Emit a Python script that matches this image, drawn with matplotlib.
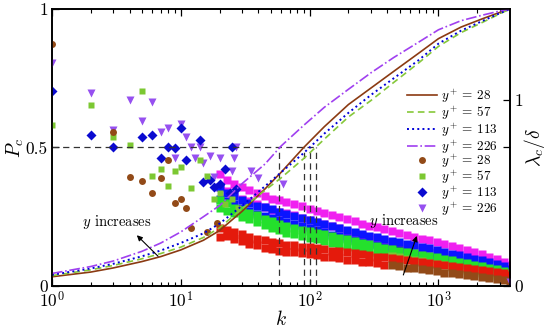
import numpy as np
import matplotlib
matplotlib.use("Agg")
import matplotlib.pyplot as plt
from matplotlib.ticker import LogLocator, NullFormatter

plt.rcParams['font.family'] = 'serif'
plt.rcParams['font.serif'] = ['cmr10']
plt.rcParams['mathtext.fontset'] = 'cm'
plt.rcParams['axes.formatter.use_mathtext'] = True

# ---- data ----
# cumulative curves P_c(k), left axis
k_curve = [1, 2, 3, 5, 7, 10, 15, 20, 30, 45, 60, 90, 130, 200, 300, 450, 700, 1000, 1500, 2200, 3000, 3600]
pc_28 = [0.033, 0.05, 0.065, 0.088, 0.106, 0.13, 0.165, 0.20, 0.27, 0.35, 0.41, 0.50, 0.575, 0.655, 0.715, 0.775, 0.84, 0.893, 0.935, 0.965, 0.988, 1.0]
pc_57 = [0.037, 0.058, 0.074, 0.098, 0.117, 0.14, 0.175, 0.21, 0.28, 0.345, 0.39, 0.46, 0.53, 0.61, 0.67, 0.735, 0.805, 0.865, 0.915, 0.952, 0.983, 1.0]
pc_113 = [0.04, 0.063, 0.08, 0.107, 0.128, 0.155, 0.19, 0.225, 0.29, 0.36, 0.41, 0.48, 0.55, 0.625, 0.69, 0.75, 0.815, 0.875, 0.922, 0.957, 0.985, 1.0]
pc_226 = [0.045, 0.07, 0.09, 0.125, 0.155, 0.195, 0.25, 0.29, 0.37, 0.44, 0.505, 0.58, 0.645, 0.71, 0.77, 0.825, 0.88, 0.925, 0.958, 0.978, 0.993, 1.0]

# k where each curve reaches P_c = 0.5 (226, 28, 113, 57)
k_half = [58, 90, 100, 113]

# sparse lambda_c/delta points at small k, right axis
k_s28 = [1, 3, 4, 5, 6, 7, 8, 9, 10, 11, 12, 16, 19]
lam_s28 = [1.30, 0.83, 0.586, 0.565, 0.50, 0.58, 0.68, 0.446, 0.47, 0.42, 0.31, 0.29, 0.34]
k_s57 = [1, 2, 3, 4, 5, 6, 7, 8, 9, 10, 12, 14, 16, 18, 20, 22, 25, 28]
lam_s57 = [0.866, 0.973, 0.80, 0.76, 1.05, 0.59, 0.63, 0.54, 0.62, 0.64, 0.527, 0.68, 0.59, 0.47, 0.50, 0.44, 0.47, 0.42]
k_s113 = [1, 2, 3, 5, 6, 7, 8, 9, 10, 11, 14, 15, 17, 18, 20, 22, 24, 25, 27]
lam_s113 = [1.05, 0.81, 0.75, 0.80, 0.81, 0.69, 0.75, 0.74, 0.85, 0.68, 0.785, 0.56, 0.57, 0.53, 0.55, 0.63, 0.50, 0.75, 0.52]
k_s226 = [1, 2, 3, 4, 5, 6, 7, 8, 9, 10, 11, 12, 13, 14, 15, 17, 18, 20, 25, 26, 27, 35, 40, 62, 3600]
lam_s226 = [1.20, 1.04, 0.84, 1.0, 0.89, 0.99, 0.83, 0.85, 0.69, 0.87, 0.80, 0.75, 0.69, 0.75, 0.66, 0.70, 0.586, 0.69, 0.62, 0.69, 0.75, 0.62, 0.58, 0.55, 0.02]

# dense bands at larger k (upper and lower edge of each band)
k_band = [20, 23, 26, 30, 34, 39, 45, 51, 58, 66, 76, 87, 100, 114, 130, 149, 170, 195, 223, 255,
          291, 333, 380, 435, 497, 568, 650, 743, 849, 970, 1110, 1270, 1450, 1660, 1900, 2170, 2480, 2840, 3250, 3600]
b28_top = [0.31, 0.30, 0.29, 0.28, 0.265, 0.255, 0.245, 0.235, 0.23, 0.222, 0.218, 0.212, 0.207, 0.202, 0.196, 0.19, 0.186, 0.18, 0.175, 0.17,
           0.164, 0.158, 0.153, 0.148, 0.143, 0.137, 0.132, 0.127, 0.121, 0.116, 0.11, 0.105, 0.1, 0.094, 0.089, 0.084, 0.078, 0.073, 0.067, 0.06]
b28_bot = [0.265, 0.27, 0.25, 0.24, 0.228, 0.22, 0.206, 0.197, 0.19, 0.185, 0.18, 0.175, 0.17, 0.164, 0.158, 0.153, 0.148, 0.142, 0.137, 0.131,
           0.126, 0.121, 0.115, 0.11, 0.105, 0.099, 0.094, 0.089, 0.083, 0.078, 0.072, 0.067, 0.062, 0.056, 0.051, 0.046, 0.04, 0.035, 0.03, 0.026]
b57_top = [0.46, 0.445, 0.42, 0.41, 0.395, 0.38, 0.362, 0.348, 0.335, 0.323, 0.313, 0.303, 0.295, 0.286, 0.278, 0.268, 0.258, 0.25, 0.243, 0.233,
           0.223, 0.213, 0.206, 0.198, 0.19, 0.183, 0.176, 0.168, 0.161, 0.154, 0.146, 0.138, 0.13, 0.122, 0.115, 0.108, 0.098, 0.09, 0.08, 0.07]
b57_bot = [0.42, 0.405, 0.39, 0.372, 0.36, 0.342, 0.327, 0.312, 0.3, 0.287, 0.277, 0.267, 0.259, 0.25, 0.242, 0.232, 0.222, 0.214, 0.207, 0.197,
           0.187, 0.177, 0.17, 0.162, 0.154, 0.147, 0.14, 0.132, 0.125, 0.118, 0.11, 0.102, 0.094, 0.086, 0.079, 0.072, 0.062, 0.054, 0.046, 0.04]
b113_top = [0.53, 0.5, 0.485, 0.462, 0.447, 0.432, 0.422, 0.412, 0.397, 0.387, 0.377, 0.367, 0.357, 0.344, 0.332, 0.32, 0.31, 0.3, 0.29, 0.28,
            0.27, 0.262, 0.252, 0.244, 0.235, 0.227, 0.218, 0.21, 0.202, 0.192, 0.182, 0.174, 0.165, 0.156, 0.147, 0.137, 0.127, 0.117, 0.105, 0.092]
b113_bot = [0.47, 0.455, 0.44, 0.418, 0.403, 0.388, 0.378, 0.368, 0.353, 0.343, 0.333, 0.323, 0.313, 0.3, 0.288, 0.276, 0.266, 0.256, 0.246, 0.236,
            0.226, 0.218, 0.208, 0.2, 0.191, 0.183, 0.174, 0.166, 0.158, 0.148, 0.138, 0.13, 0.121, 0.112, 0.103, 0.093, 0.083, 0.073, 0.061, 0.05]
b226_top = [0.6, 0.57, 0.55, 0.53, 0.515, 0.5, 0.485, 0.47, 0.46, 0.45, 0.44, 0.428, 0.415, 0.402, 0.392, 0.38, 0.37, 0.358, 0.347, 0.335,
            0.325, 0.315, 0.305, 0.295, 0.285, 0.275, 0.265, 0.255, 0.245, 0.235, 0.225, 0.215, 0.205, 0.193, 0.182, 0.17, 0.158, 0.145, 0.13, 0.115]
b226_bot = [0.53, 0.51, 0.49, 0.47, 0.455, 0.44, 0.425, 0.41, 0.4, 0.39, 0.38, 0.368, 0.355, 0.342, 0.332, 0.32, 0.31, 0.298, 0.287, 0.275,
            0.265, 0.255, 0.245, 0.235, 0.225, 0.215, 0.205, 0.195, 0.185, 0.175, 0.165, 0.155, 0.145, 0.133, 0.122, 0.11, 0.098, 0.085, 0.07, 0.06]

labels = [r'$y^+ =\, 28$', r'$y^+ =\, 57$', r'$y^+ =\, 113$', r'$y^+ =\, 226$']
c_line = ['#8b3a12', '#86c83a', '#0000d8', '#a040f0']
c_mark = ['#924a18', '#7cc832', '#0a0ad0', '#9650f0']
c_band = ['#e41a0c', '#24e02c', '#0a14ff', '#f020f0']

fig = plt.figure(figsize=(5.5, 3.34), dpi=100)
ax = fig.add_axes([0.0945, 0.144, 0.833, 0.829])
ax2 = ax.twinx()
ax.set_zorder(ax2.get_zorder() + 1)
ax.patch.set_visible(False)

kmax = 3600
lam_top = 1.49

# scatter (right axis)
k_band = np.array(k_band)
hi_k = k_band >= 400
bands = [(b226_top, b226_bot, 3), (b113_top, b113_bot, 2), (b57_top, b57_bot, 1), (b28_top, b28_bot, 0)]
for top, bot, i in bands:
    top = np.array(top)
    bot = np.array(bot)
    ax2.plot(k_band, top, 's', ms=6, color=c_band[i], mec='none', zorder=2)
    ax2.plot(k_band[~hi_k], bot[~hi_k], 's', ms=6, color=c_band[i], mec='none', zorder=2)
    ax2.plot(k_band[hi_k], bot[hi_k], 's', ms=6, color=c_mark[i], mec='none', zorder=2)

h_s = []
h_s.append(ax2.plot(k_s226, lam_s226, 'v', ms=5.5, color=c_mark[3], mec='none', zorder=3)[0])
h_s.append(ax2.plot(k_s113, lam_s113, 'D', ms=4.6, color=c_mark[2], mec='none', zorder=3)[0])
h_s.append(ax2.plot(k_s57, lam_s57, 's', ms=4.6, color=c_mark[1], mec='none', zorder=3)[0])
h_s.append(ax2.plot(k_s28, lam_s28, 'o', ms=5, color=c_mark[0], mec='none', zorder=3)[0])
h_s = h_s[::-1]

# dashed guide lines
ax.plot([1, max(k_half)], [0.5, 0.5], color='#333333', lw=0.9, dashes=(5, 3.5))
for kh in k_half:
    ax.plot([kh, kh], [0, 0.5], color='#333333', lw=0.9, dashes=(5, 3.5))

# cumulative curves (left axis)
h_l = []
h_l.append(ax.plot(k_curve, pc_28, '-', color=c_line[0], lw=1.2)[0])
h_l.append(ax.plot(k_curve, pc_57, '--', color=c_line[1], lw=1.2, dashes=(4, 2.5))[0])
h_l.append(ax.plot(k_curve, pc_113, ':', color=c_line[2], lw=1.4)[0])
h_l.append(ax.plot(k_curve, pc_226, '-.', color=c_line[3], lw=1.2)[0])

ax.set_xscale('log')
ax.set_xlim(1, kmax)
ax.set_ylim(0, 1)
ax2.set_ylim(0, lam_top)

ax.set_yticks([0, 0.5, 1])
ax.set_yticklabels(['0', '0.5', '1'])
ax2.set_yticks([0, 0.5 * lam_top, 1])
ax2.set_yticklabels(['0', '', '1'])
ax.xaxis.set_major_locator(LogLocator(base=10, numticks=10))
ax.xaxis.set_minor_locator(LogLocator(base=10, subs=np.arange(2, 10), numticks=20))
ax.xaxis.set_minor_formatter(NullFormatter())

ax.tick_params(axis='both', which='both', direction='in', top=True, labelsize=12.5, pad=3)
ax.tick_params(axis='x', which='major', length=5, width=0.9)
ax.tick_params(axis='x', which='minor', length=3, width=0.8)
ax.tick_params(axis='y', length=5, width=0.9, right=False)
ax2.tick_params(axis='y', direction='in', length=5, width=0.9, labelsize=12.5, pad=3)
for a in (ax, ax2):
    for s in a.spines.values():
        s.set_linewidth(1.2)

ax.set_xlabel('$k$', fontsize=14, labelpad=0)
ax.set_ylabel('$P_c$', fontsize=14, labelpad=0)
ax2.set_ylabel(r'$\lambda_c/\delta$', fontsize=14, labelpad=-1)

# annotations
ax.annotate('', xy=(4.4, 0.19), xytext=(6.9, 0.10),
            arrowprops=dict(arrowstyle='-|>', color='black', lw=0.8, mutation_scale=8))
ax.text(3.2, 0.23, '$y$ increases', fontsize=10.5, ha='center', va='center')
ax.annotate('', xy=(690, 0.19), xytext=(525, 0.03),
            arrowprops=dict(arrowstyle='-|>', color='black', lw=0.8, mutation_scale=8))
ax.text(540, 0.235, '$y$ increases', fontsize=10.5, ha='center', va='center')

# two stacked legends: lines (P_c) then markers (lambda_c/delta)
leg_kw = dict(loc='upper left', frameon=False, fontsize=9.5, handlelength=2.3, handletextpad=0.3,
              borderpad=0, borderaxespad=0)
leg1 = ax.legend(h_l, labels, bbox_to_anchor=(0.774, 0.718), labelspacing=-0.05, **leg_kw)
ax.add_artist(leg1)
leg2 = ax.legend(h_s, labels, bbox_to_anchor=(0.774, 0.484), labelspacing=-0.12, **leg_kw)

fig.savefig('out.png', dpi=100)
